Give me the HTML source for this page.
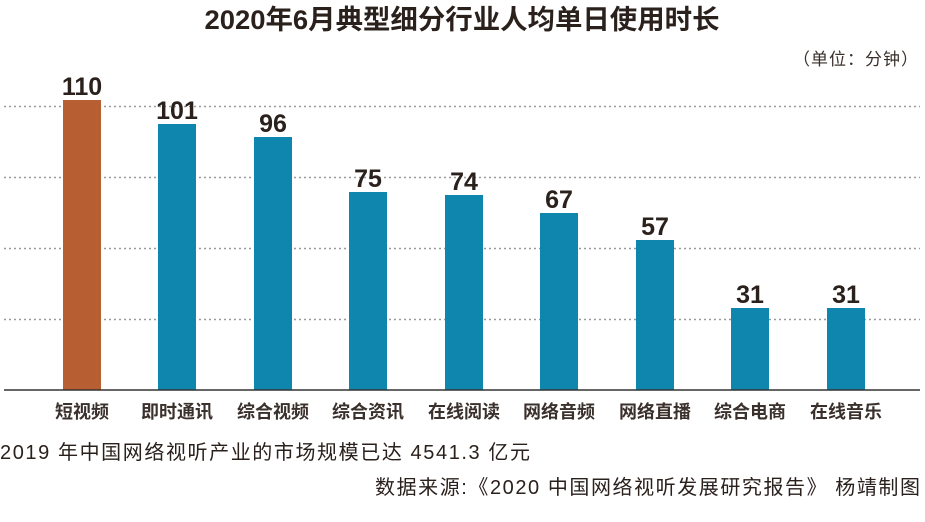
<!DOCTYPE html>
<html><head><meta charset="utf-8"><style>
body{margin:0;width:925px;height:522px;background:#fff;overflow:hidden;font-family:"Liberation Sans","Noto Sans CJK SC",sans-serif;color:#2a201c}
</style></head><body>
<svg width="925" height="522" xmlns="http://www.w3.org/2000/svg" style="position:absolute;left:0;top:0">
<text x="462" y="29" text-anchor="middle" font-size="27" font-weight="bold" fill="#2a201c" textLength="515" lengthAdjust="spacingAndGlyphs" font-family="Liberation Sans,Noto Sans CJK SC,sans-serif">2020年6月典型细分行业人均单日使用时长</text>
<text x="918" y="65" text-anchor="end" font-size="17" fill="#3a302c" textLength="125" font-family="Liberation Sans,Noto Sans CJK SC,sans-serif">（单位：分钟）</text>
<g stroke="#9a9a9a" stroke-width="1.5" stroke-dasharray="2,3">
<line x1="4" y1="106.5" x2="920" y2="106.5"/><line x1="4" y1="177.5" x2="920" y2="177.5"/>
<line x1="4" y1="248.5" x2="920" y2="248.5"/><line x1="4" y1="319.5" x2="920" y2="319.5"/>
</g>
<rect x="63" y="100" width="38" height="290" fill="#b75f33"/>
<g fill="#0e86ae">
<rect x="158" y="124" width="38" height="266"/>
<rect x="254" y="137" width="38" height="253"/>
<rect x="349" y="192" width="38" height="198"/>
<rect x="445" y="195" width="38" height="195"/>
<rect x="540" y="213" width="38" height="177"/>
<rect x="636" y="240" width="38" height="150"/>
<rect x="731" y="308" width="38" height="82"/>
<rect x="827" y="308" width="38" height="82"/>
</g>
<line x1="4" y1="390" x2="920" y2="390" stroke="#333" stroke-width="1.5"/>
<g font-size="25" font-weight="bold" text-anchor="middle" fill="#2a201c" font-family="Liberation Sans,sans-serif">
<text x="82" y="95">110</text><text x="177" y="119">101</text><text x="273" y="132">96</text>
<text x="368" y="187">75</text><text x="464" y="190">74</text><text x="559" y="208">67</text>
<text x="655" y="235">57</text><text x="750" y="303">31</text><text x="846" y="303">31</text>
</g>
<g font-size="18" font-weight="bold" text-anchor="middle" fill="#3a302c" font-family="Noto Sans CJK SC,sans-serif">
<text x="82" y="418">短视频</text><text x="177" y="418">即时通讯</text><text x="273" y="418">综合视频</text>
<text x="368" y="418">综合资讯</text><text x="464" y="418">在线阅读</text><text x="559" y="418">网络音频</text>
<text x="655" y="418">网络直播</text><text x="750" y="418">综合电商</text><text x="846" y="418">在线音乐</text>
</g>
<text x="0" y="459" font-size="20" fill="#2a201c" textLength="530" font-family="Liberation Sans,Noto Sans CJK SC,sans-serif">2019 年中国网络视听产业的市场规模已达 4541.3 亿元</text>
<text x="920" y="494" text-anchor="end" font-size="20" fill="#2a201c" textLength="545" font-family="Liberation Sans,Noto Sans CJK SC,sans-serif">数据来源:《2020 中国网络视听发展研究报告》  杨靖制图</text>
</svg>
</body></html>
